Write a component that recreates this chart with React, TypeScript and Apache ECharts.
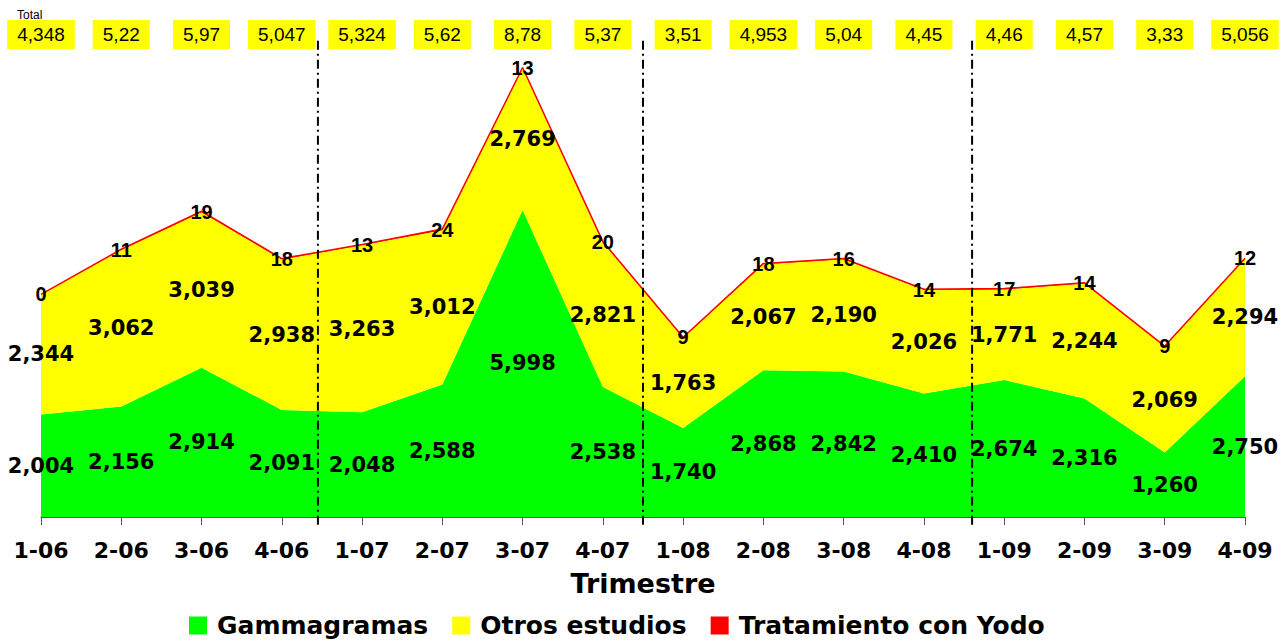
import React, { useEffect, useRef } from "react";
import * as echarts from "echarts";

const categories = ["1-06", "2-06", "3-06", "4-06", "1-07", "2-07", "3-07", "4-07", "1-08", "2-08", "3-08", "4-08", "1-09", "2-09", "3-09", "4-09"];
const gammagramas = [2004, 2156, 2914, 2091, 2048, 2588, 5998, 2538, 1740, 2868, 2842, 2410, 2674, 2316, 1260, 2750];
const otrosEstudios = [2344, 3062, 3039, 2938, 3263, 3012, 2769, 2821, 1763, 2067, 2190, 2026, 1771, 2244, 2069, 2294];
const tratamientoYodo = [0, 11, 19, 18, 13, 24, 13, 20, 9, 18, 16, 14, 17, 14, 9, 12];
const totalLabels = ["4,348", "5,22", "5,97", "5,047", "5,324", "5,62", "8,78", "5,37", "3,51", "4,953", "5,04", "4,45", "4,46", "4,57", "3,33", "5,056"];
const yearDividers = [3.45, 7.5, 11.6];

const seriesNames = ["Gammagramas", "Otros estudios", "Tratamiento con Yodo"];
const seriesColors = ["#00FF00", "#FFFF00", "#FF0000"];

const BOLD = "DejaVu Sans";
const fmt = (v: number) => v.toLocaleString("en-US");

export default function App() {
  const ref = useRef<HTMLDivElement>(null);

  useEffect(() => {
    if (!ref.current) return;
    const chart = echarts.init(ref.current, null, { renderer: "svg" });

    const stacks = [gammagramas, otrosEstudios, tratamientoYodo];
    const mids = stacks.map((arr, s) =>
      arr.map((v, i) => {
        let base = 0;
        for (let k = 0; k < s; k++) base += stacks[k][i];
        return [i, base + v / 2, v];
      })
    );

    const areaSeries = stacks.map((arr, s) => ({
      name: seriesNames[s],
      type: "line",
      stack: "total",
      data: arr,
      symbol: "none",
      showSymbol: false,
      itemStyle: { color: seriesColors[s] },
      lineStyle: s === 2 ? { color: "#FF0000", width: 1.5 } : { width: 0, opacity: 0 },
      areaStyle: { color: seriesColors[s], opacity: 1 },
      z: 2,
    }));

    const labelSeries = mids.map((d, s) => ({
      type: "scatter",
      data: d,
      symbolSize: 0,
      silent: true,
      z: 5,
      itemStyle: { opacity: 1, color: "#000000" },
      label: {
        show: true,
        position: "inside",
        formatter: (p: any) => fmt(p.value[2]),
        color: "#000000",
        opacity: 1,
        textBorderWidth: 0,
        textBorderColor: "transparent",
        fontFamily: s === 2 ? "Liberation Sans" : BOLD,
        fontWeight: "bold",
        fontSize: s === 2 ? 20 : 21,
      },
    }));

    const totalText = {
      type: "text",
      left: 17,
      top: 9,
      z: 0,
      style: { text: "Total", fontSize: 12, fontFamily: "Liberation Sans", fill: "#000" },
    };

    chart.setOption({
      animation: false,
      backgroundColor: "#FFFFFF",
      grid: { left: 41, right: 37, top: 5, bottom: 124, containLabel: false },
      legend: {
        data: seriesNames,
        left: 184,
        top: 608,
        icon: "rect",
        itemWidth: 18,
        itemHeight: 18,
        itemGap: 24,
        textStyle: {
          fontFamily: BOLD,
          fontWeight: "bold",
          fontSize: 25,
          color: "#000",
          padding: [0, 0, 0, 5],
        },
      },
      xAxis: [
        {
          type: "category",
          data: categories,
          boundaryGap: false,
          axisLine: { lineStyle: { color: "#555555", width: 1 } },
          axisTick: { show: true, length: 8, interval: 0, lineStyle: { color: "#555555" } },
          axisLabel: {
            interval: 0,
            margin: 22,
            color: "#000",
            fontFamily: BOLD,
            fontWeight: "bold",
            fontSize: 22,
          },
          name: "Trimestre",
          nameLocation: "middle",
          nameGap: 53,
          nameTextStyle: { fontFamily: BOLD, fontWeight: "bold", fontSize: 27, color: "#000" },
          splitLine: { show: false },
        },
        {
          type: "category",
          data: categories,
          position: "top",
          boundaryGap: false,
          z: 10,
          axisLine: { show: false },
          axisTick: { show: false },
          splitLine: { show: false },
          axisLabel: {
            inside: true,
            interval: 0,
            margin: 15,
            formatter: (_v: string, i: number) => totalLabels[i],
            backgroundColor: "#FFFF00",
            padding: [5, 10],
            color: "#000",
            fontFamily: "Liberation Sans",
            fontSize: 19,
          },
        },
        { type: "value", min: 0, max: categories.length - 1, show: false },
      ],
      yAxis: [{ type: "value", min: 0, max: 10000, show: false }],
      graphic: { elements: [totalText] },
      series: [...areaSeries, ...labelSeries],
    });

    const bottomPx = chart.convertToPixel({ yAxisIndex: 0 }, 0) as number;
    const topPx = chart.convertToPixel({ yAxisIndex: 0 }, 9300) as number;
    const dividerEls = yearDividers.map((xv) => {
      const x = chart.convertToPixel({ xAxisIndex: 2 }, xv) as number;
      return {
        type: "line",
        z: 20,
        shape: { x1: x, y1: topPx, x2: x, y2: bottomPx + 8 },
        style: { stroke: "#000", lineWidth: 2, lineDash: [9, 4, 2, 4] },
      };
    });
    chart.setOption({ graphic: { elements: [totalText, ...dividerEls] } });

    return () => chart.dispose();
  }, []);

  return <div ref={ref} style={{ position: "absolute", left: 0, top: 0, width: 1282, height: 641 }} />;
}
